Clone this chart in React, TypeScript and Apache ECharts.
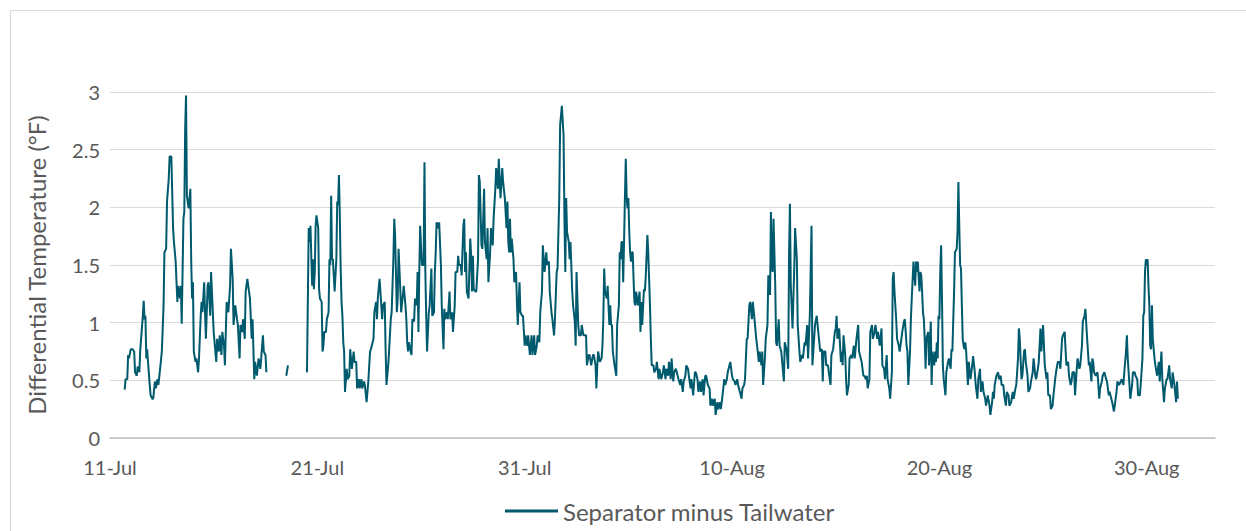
import React, { useEffect, useRef } from "react";
import * as echarts from "echarts";

// x = hours since 11-Jul 00:00, y = differential temperature (°F)
const TICK_LABELS = ["11-Jul", "21-Jul", "31-Jul", "10-Aug", "20-Aug", "30-Aug"];
const Y_TICKS = [0, 0.5, 1, 1.5, 2, 2.5, 3];
const SERIES_NAME = "Separator minus Tailwater";

const jul11to15: [number, number][] = [[17,0.42],[18,0.51],[20,0.51],[21,0.72],[22,0.69],[24,0.77],[26,0.77],[28,0.75],[29,0.57],[31,0.54],[32,0.62],[34,0.57],[35,0.76],[36,0.86],[38,1.06],[39,1.19],[40,1.03],[41,1.06],[42,0.69],[43,0.77],[44,0.66],[46,0.46],[47,0.37],[49,0.34],[50,0.34],[52,0.49],[53,0.43],[55,0.51],[56,0.46],[58,0.60],[60,0.75],[62,1.15],[63,1.61],[65,1.64],[66,2.05],[68,2.25],[69,2.44],[71,2.44],[73,1.82],[74,1.70],[76,1.53],[77,1.35],[78,1.18],[79,1.32],[81,1.21],[82,1.32],[83,0.99],[84,1.44],[85,1.90],[86,1.96],[87,2.68],[88,2.97],[89,2.10],[91,1.99],[93,2.16],[94,1.53],[95,1.21],[96,1.35],[97,0.75],[99,0.66],[100,0.69],[102,0.57],[103,0.69],[105,1.06],[106,1.18],[107,1.09],[109,1.35],[110,1.09],[111,0.86],[113,1.32],[114,1.35],[116,1.06],[117,1.44]];

const jul15to18: [number, number][] = [[120,0.92],[123,0.66],[124,0.86],[126,0.75],[127,0.89],[129,0.72],[130,0.92],[132,0.80],[133,0.63],[135,1.18],[137,1.09],[139,1.32],[140,1.64],[142,1.38],[143,0.98],[145,1.15],[147,1.03],[148,0.98],[150,0.69],[151,0.98],[153,0.92],[154,1.03],[156,0.86],[157,1.27],[159,1.38],[160,1.32],[162,1.21],[164,0.86],[165,1.03],[167,0.51],[168,0.66],[170,0.54],[172,0.69],[174,0.60],[175,0.69],[177,0.89],[178,0.75],[180,0.72],[181,0.57]];

const jul19: [number, number][] = [[204,0.54],[206,0.63]];

const jul20to25: [number, number][] = [[228,0.57],[230,1.82],[231,1.70],[232,1.84],[234,1.32],[235,1.55],[236,1.29],[237,1.44],[238,1.84],[239,1.93],[241,1.82],[242,1.29],[243,1.21],[245,1.18],[246,0.75],[247,0.80],[248,0.92],[250,0.92],[251,1.03],[253,1.09],[254,1.55],[255,1.50],[256,2.10],[257,1.55],[258,1.55],[260,1.27],[262,1.55],[263,2.05],[264,2.02],[265,2.28],[266,1.93],[267,1.47],[268,1.18],[269,1.06],[270,0.83],[271,0.75],[272,0.40],[274,0.60],[275,0.51],[277,0.54],[278,0.77],[280,0.60],[282,0.75],[283,0.66],[285,0.66],[286,0.43],[288,0.51],[289,0.43],[291,0.51],[292,0.43],[294,0.49],[295,0.46],[297,0.31],[299,0.49],[301,0.75],[302,0.77],[305,0.86],[306,1.09],[308,1.18],[309,1.03],[310,1.21],[312,1.38],[313,1.27],[315,1.03],[316,1.15],[318,1.18],[319,0.77],[320,0.46],[322,0.63],[323,0.75],[325,1.03],[326,1.09],[328,1.55],[329,1.90],[330,1.76],[332,1.09],[333,1.21],[334,1.64],[336,1.29],[337,1.09],[339,1.24],[340,1.32],[342,1.15],[343,1.03],[344,0.83]];

const jul25to29: [number, number][] = [[345,0.75],[346,0.83],[348,0.75],[349,0.72],[350,1.03],[352,1.01],[353,1.21],[355,1.15],[356,1.44],[357,0.92],[358,1.44],[359,1.84],[361,1.50],[363,1.50],[364,2.39],[365,1.44],[366,1.06],[367,0.75],[369,1.09],[370,1.15],[372,1.47],[373,1.06],[375,1.09],[376,1.44],[377,1.61],[378,1.87],[380,1.82],[381,1.87],[383,1.50],[384,1.15],[386,0.77],[387,1.12],[388,1.03],[390,1.09],[391,1.03],[393,1.27],[394,1.03],[396,1.09],[397,0.92],[399,1.15],[400,1.44],[402,1.44],[403,1.58],[404,1.50],[406,1.50],[407,1.41],[409,1.84],[410,1.90],[411,1.44],[412,1.61],[413,1.27],[415,1.21],[417,1.73],[418,1.58],[419,1.27],[420,1.58],[421,1.29],[423,1.27],[424,1.27],[426,1.55],[427,2.28],[428,2.22],[430,1.67],[431,1.64],[433,2.16],[434,1.70],[436,1.55],[437,1.82],[438,1.35],[440,1.61],[441,1.82],[443,1.67],[444,1.90],[446,2.16],[447,2.34],[449,2.16],[450,2.42],[452,2.08],[454,2.34],[455,2.22]];

const jul30toAug3: [number, number][] = [[457,2.08],[459,1.82],[460,2.05],[461,1.70],[462,1.61],[463,1.90],[464,1.61],[465,1.73],[467,1.55],[468,1.35],[470,1.44],[471,1.18],[472,0.98],[474,1.35],[475,1.09],[477,1.06],[478,1.06],[480,0.80],[481,0.89],[483,0.80],[484,0.89],[486,0.72],[488,0.89],[489,0.72],[491,0.89],[492,0.72],[494,0.80],[495,0.89],[497,0.83],[498,1.09],[500,1.27],[501,1.67],[503,1.44],[505,1.61],[506,1.50],[508,1.53],[509,1.27],[511,1.09],[512,1.03],[514,0.89],[515,1.03],[517,1.44],[518,1.47],[520,2.08],[521,2.71],[523,2.88],[525,2.62],[526,1.90],[527,1.44],[528,2.08],[529,1.79],[531,1.70],[532,1.55],[533,1.70],[535,1.27],[536,1.15],[538,1.01],[539,0.80],[540,1.44],[542,0.98],[543,0.89],[545,0.89],[546,0.98],[548,0.89],[549,0.89],[551,0.89],[552,0.63],[554,0.72],[555,0.72],[557,0.63],[559,0.72],[560,0.72],[562,0.63],[563,0.43],[564,0.63],[565,0.75],[567,0.66],[569,0.69],[570,0.80]];

const aug4to8: [number, number][] = [[571,1.03],[572,1.47],[573,1.27],[575,1.21],[576,1.32],[577,1.15],[578,0.98],[579,1.15],[580,0.98],[581,0.98],[582,0.75],[584,0.63],[586,0.54],[587,0.98],[589,1.15],[590,1.61],[591,1.55],[592,1.70],[593,1.70],[594,1.35],[595,1.70],[596,2.08],[597,2.42],[598,2.10],[599,1.99],[600,2.08],[601,1.79],[602,1.61],[603,1.53],[604,1.61],[605,1.61],[606,1.38],[607,1.18],[608,1.15],[609,1.27],[611,1.15],[613,1.27],[614,0.92],[615,1.18],[616,0.98],[618,1.29],[619,1.27],[620,1.38],[622,1.76],[623,1.61],[624,1.38],[625,1.15],[626,0.86],[627,0.63],[629,0.63],[630,0.57],[632,0.60],[633,0.66],[635,0.51],[636,0.60],[638,0.51],[640,0.57],[641,0.63],[643,0.51],[644,0.60],[646,0.54],[647,0.66],[649,0.51],[650,0.69],[652,0.49],[653,0.57],[655,0.60],[657,0.54],[658,0.51],[660,0.46],[661,0.51],[663,0.40],[664,0.49],[666,0.54],[667,0.63],[669,0.60],[670,0.54],[672,0.43],[673,0.51],[675,0.37],[677,0.57],[678,0.57],[680,0.51],[681,0.40],[683,0.49]];

const aug9to13: [number, number][] = [[684,0.40],[686,0.51],[687,0.37],[689,0.54],[690,0.54],[692,0.46],[694,0.43],[695,0.28],[697,0.34],[698,0.28],[700,0.34],[701,0.20],[703,0.31],[704,0.25],[706,0.31],[707,0.25],[709,0.37],[711,0.51],[712,0.46],[714,0.51],[715,0.57],[717,0.63],[718,0.66],[720,0.54],[721,0.51],[723,0.49],[724,0.46],[726,0.51],[727,0.46],[729,0.40],[731,0.34],[732,0.43],[734,0.46],[735,0.51],[737,0.86],[738,0.86],[740,1.15],[741,1.18],[743,1.03],[744,1.18],[746,1.03],[748,0.86],[749,0.80],[751,0.66],[752,0.75],[754,0.63],[755,0.75],[756,0.46],[758,0.69],[759,0.86],[761,0.98],[762,1.41],[764,1.24],[765,1.96],[766,1.50],[767,1.44],[768,1.90],[770,1.32],[771,0.83],[772,0.80],[774,1.03],[775,0.80],[777,0.75],[778,0.66],[780,0.49],[781,0.83],[783,0.77],[785,0.60],[786,1.61],[787,2.03],[788,1.32],[790,0.95],[792,1.47],[793,1.82],[795,1.55],[796,0.98]];

const aug14to18: [number, number][] = [[798,0.75],[799,0.66],[801,0.72],[802,0.69],[804,0.83],[805,0.80],[807,0.98],[808,0.69],[810,1.06],[812,1.84],[813,0.63],[815,0.86],[816,0.98],[818,1.06],[819,0.98],[821,0.83],[822,0.75],[824,0.77],[825,0.49],[826,0.75],[828,0.75],[829,0.63],[831,0.63],[832,0.57],[834,0.46],[835,0.72],[837,0.77],[839,0.92],[840,0.95],[841,1.06],[842,0.86],[844,0.95],[846,0.66],[847,0.75],[848,0.63],[849,0.89],[851,0.72],[852,0.51],[853,0.37],[855,0.46],[856,0.69],[858,0.72],[859,0.69],[861,0.80],[862,0.69],[864,0.86],[866,0.98],[867,0.75],[869,0.69],[870,0.66],[872,0.54],[873,0.54],[875,0.51],[876,0.54],[877,0.43],[879,0.51],[880,0.92],[882,0.98],[883,0.86],[885,0.92],[886,0.98],[888,0.86],[889,0.92],[891,0.80],[893,0.95],[894,0.63],[896,0.60],[897,0.51],[899,0.72],[900,0.51],[902,0.43],[903,0.34],[905,0.57],[906,1.38],[907,1.44],[908,1.27],[910,1.03]];

const aug18to23: [number, number][] = [[911,0.86],[913,0.80],[914,0.75],[916,0.86],[917,0.92],[919,1.01],[920,1.03],[921,0.92],[922,0.80],[923,0.75],[924,0.46],[926,0.75],[927,1.03],[928,1.21],[930,1.53],[931,1.41],[932,1.32],[933,1.53],[934,1.44],[935,1.53],[937,1.27],[938,1.44],[939,1.41],[940,1.27],[941,1.09],[942,1.03],[943,0.86],[944,0.60],[945,0.86],[947,0.92],[948,0.63],[949,0.80],[950,1.01],[951,0.46],[952,0.75],[954,0.63],[955,0.75],[956,0.66],[957,0.83],[958,0.69],[959,1.06],[960,1.03],[961,1.44],[962,1.67],[963,1.21],[964,0.63],[965,0.51],[967,0.37],[968,0.57],[970,0.66],[971,0.69],[973,0.60],[974,0.77],[975,0.75],[977,1.27],[978,1.61],[980,1.64],[981,1.79],[982,2.22],[983,1.84],[984,1.50],[985,1.47],[986,1.15],[987,0.86],[988,0.80],[989,0.77],[990,0.83],[991,0.75],[993,0.46],[994,0.66],[996,0.51],[998,0.63],[999,0.71],[1001,0.57],[1002,0.46],[1004,0.34],[1005,0.51],[1007,0.60],[1008,0.40],[1010,0.49],[1011,0.40],[1013,0.34],[1014,0.28],[1016,0.37],[1018,0.28],[1019,0.20],[1021,0.31],[1022,0.40]];

const aug23to27: [number, number][] = [[1023,0.34],[1024,0.46],[1026,0.54],[1028,0.57],[1029,0.51],[1031,0.54],[1032,0.46],[1034,0.46],[1035,0.37],[1037,0.28],[1038,0.40],[1040,0.37],[1041,0.28],[1043,0.31],[1045,0.40],[1046,0.34],[1048,0.43],[1049,0.46],[1051,0.69],[1052,0.95],[1053,0.86],[1055,0.51],[1056,0.54],[1058,0.75],[1059,0.77],[1060,0.66],[1062,0.54],[1063,0.40],[1065,0.43],[1066,0.49],[1068,0.57],[1069,0.69],[1071,0.54],[1072,0.51],[1074,0.60],[1075,0.66],[1077,0.95],[1078,0.75],[1080,0.98],[1081,0.80],[1082,0.63],[1084,0.51],[1085,0.57],[1086,0.37],[1088,0.37],[1089,0.25],[1091,0.28],[1092,0.37],[1094,0.51],[1095,0.57],[1097,0.66],[1099,0.66],[1100,0.60],[1102,0.86],[1103,0.89],[1105,0.92],[1106,0.77],[1107,0.63],[1109,0.66],[1110,0.54],[1112,0.46],[1113,0.49],[1114,0.57],[1116,0.57],[1117,0.37],[1119,0.60],[1120,0.69],[1122,0.60],[1123,0.63],[1125,0.80],[1126,1.01],[1128,1.06],[1129,1.12],[1131,0.86],[1133,0.63],[1134,0.66],[1136,0.49],[1137,0.69]];

const aug28to31: [number, number][] = [[1138,0.66],[1139,0.57],[1141,0.54],[1143,0.57],[1144,0.46],[1145,0.34],[1146,0.43],[1148,0.49],[1149,0.54],[1151,0.57],[1153,0.51],[1154,0.49],[1156,0.37],[1157,0.40],[1159,0.34],[1160,0.31],[1162,0.23],[1163,0.28],[1165,0.40],[1166,0.49],[1168,0.46],[1170,0.49],[1171,0.51],[1173,0.46],[1174,0.57],[1176,0.75],[1177,0.89],[1178,0.69],[1180,0.46],[1181,0.34],[1183,0.46],[1184,0.57],[1186,0.57],[1187,0.54],[1189,0.51],[1190,0.37],[1192,0.37],[1193,0.46],[1195,0.69],[1196,1.06],[1197,1.09],[1198,1.44],[1199,1.55],[1200,1.50],[1201,1.55],[1202,1.32],[1203,1.15],[1204,0.80],[1205,0.77],[1206,1.15],[1207,0.86],[1209,0.69],[1210,0.63],[1212,0.54],[1214,0.66],[1215,0.49],[1217,0.75],[1218,0.51],[1220,0.31],[1221,0.43],[1223,0.51],[1224,0.51],[1226,0.63],[1227,0.51],[1229,0.43],[1230,0.57],[1232,0.46],[1234,0.31],[1235,0.49],[1236,0.34]];

const X_MAX_HOURS = 1279;
const TICK_STEP_HOURS = 240;

export default function App() {
  const ref = useRef<HTMLDivElement>(null);

  useEffect(() => {
    if (!ref.current) return;
    const chart = echarts.init(ref.current, undefined, { renderer: "svg" });
    const gap = (h: number): [number, number | null] => [h, null];
    const data: any[] = [
      ...jul11to15,
      ...jul15to18,
      gap(190),
      ...jul19,
      gap(215),
      ...jul20to25,
      ...jul25to29,
      ...jul30toAug3,
      ...aug4to8,
      ...aug9to13,
      ...aug14to18,
      ...aug18to23,
      ...aug23to27,
      ...aug28to31,
    ];
    const font = "Lato, 'Noto Sans', sans-serif";
    chart.setOption({
      animation: false,
      backgroundColor: "#ffffff",
      graphic: [
        {
          type: "rect",
          shape: { x: 10.5, y: 10.5, width: 1400, height: 700 },
          style: { fill: "none", stroke: "#d9d9d9", lineWidth: 1 },
          silent: true,
        },
      ],
      grid: { left: 110, right: 31, top: 92, bottom: 93, containLabel: false },
      legend: {
        data: [SERIES_NAME],
        left: 505,
        top: 497,
        padding: 0,
        itemWidth: 53,
        itemHeight: 3,
        icon: "rect",
        textStyle: { color: "#595959", fontSize: 24, fontFamily: font, lineHeight: 28 },
      },
      xAxis: {
        type: "value",
        min: 0,
        max: X_MAX_HOURS,
        interval: TICK_STEP_HOURS,
        axisLine: { show: true, lineStyle: { color: "#bfbfbf", width: 1.5 } },
        axisTick: { show: false },
        splitLine: { show: false },
        axisLabel: {
          color: "#595959",
          fontSize: 20,
          fontFamily: font,
          margin: 19,
          showMaxLabel: false,
          formatter: (v: number) => {
            const i = Math.round(v / TICK_STEP_HOURS);
            return Math.abs(v - i * TICK_STEP_HOURS) < 1e-6 ? TICK_LABELS[i] ?? "" : "";
          },
        },
      },
      yAxis: {
        type: "value",
        min: Y_TICKS[0],
        max: Y_TICKS[Y_TICKS.length - 1],
        interval: 0.5,
        name: "Differential Temperature (°F)",
        nameLocation: "middle",
        nameGap: 62,
        nameTextStyle: { color: "#595959", fontSize: 24, fontFamily: font },
        axisLine: { show: false },
        axisTick: { show: false },
        splitLine: { lineStyle: { color: "#d9d9d9", width: 1 } },
        axisLabel: { color: "#595959", fontSize: 20, fontFamily: font, margin: 10 },
      },
      series: [
        {
          name: SERIES_NAME,
          type: "line",
          data,
          showSymbol: false,
          symbol: "none",
          connectNulls: false,
          color: "#005a6e",
          lineStyle: { color: "#005a6e", width: 2 },
        },
      ],
    });
    return () => chart.dispose();
  }, []);

  return (
    <div
      ref={ref}
      style={{ position: "fixed", left: 0, top: 0, width: 1246, height: 531, background: "#fff" }}
    />
  );
}
